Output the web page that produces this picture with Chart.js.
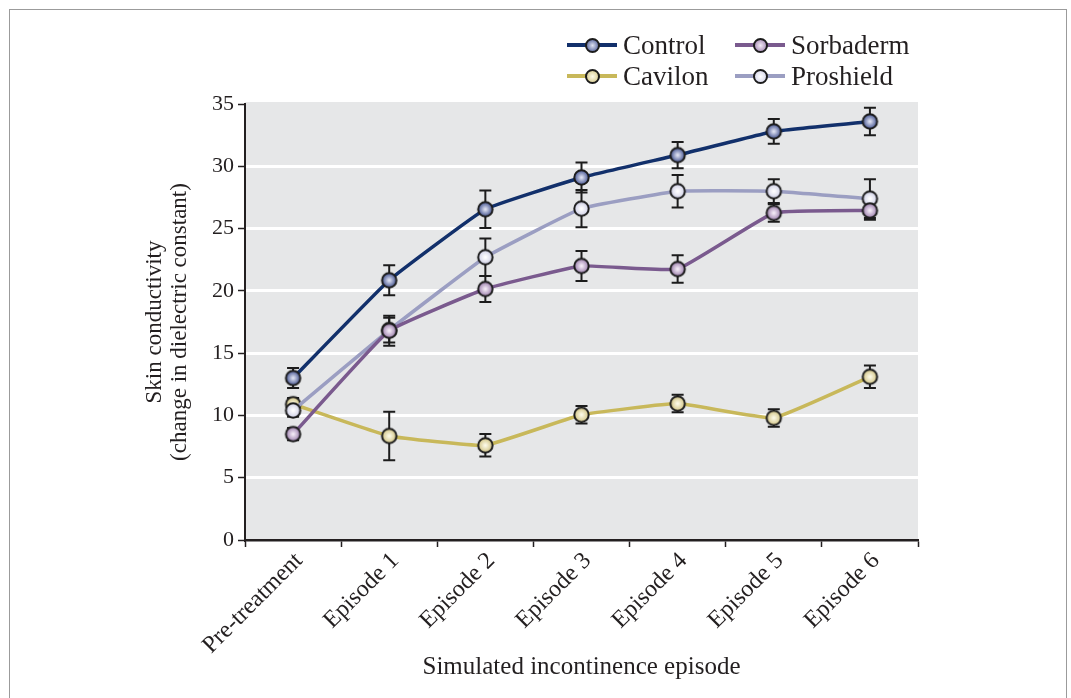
<!DOCTYPE html>
<html>
<head>
<meta charset="utf-8">
<script src="https://cdn.jsdelivr.net/npm/chart.js@4/dist/chart.umd.min.js"></script>
<style>
  body { margin: 0; background: #fff; }
  #wrap { position: relative; width: 1071px; height: 698px; overflow: hidden; }
  #frame { position: absolute; left: 9px; top: 9px; width: 1056px; height: 720px;
           border: 1.5px solid #9b9b9b; border-bottom: none; }
  #chartBox { position: absolute; left: 0; top: 0; width: 1071px; height: 698px; }
  .leg { position: absolute; font-family: "Liberation Serif", serif; font-size: 27px;
         color: #231f20; display: flex; align-items: center; height: 30px; }
  .leg .ln { position: relative; width: 50px; height: 3.5px; margin-right: 6px; }
  .leg .mk { position: absolute; left: 18px; top: -5.5px; width: 11px; height: 11px;
             border: 2px solid #1c1c1c; border-radius: 50%; }
</style>
</head>
<body>
<div id="wrap">
  <div id="frame"></div>
  <div id="chartBox"><canvas id="lineChart"></canvas></div>
  <div id="legend"></div>
</div>
<script>
const categories = ["Pre-treatment", "Episode 1", "Episode 2", "Episode 3", "Episode 4", "Episode 5", "Episode 6"];

const control      = [13.0, 20.85, 26.55, 29.1, 30.9, 32.8, 33.6];
const controlErr   = [0.8, 1.2, 1.5, 1.2, 1.05, 1.0, 1.1];
const sorbaderm    = [8.5, 16.8, 20.15, 22.0, 21.75, 26.25, 26.45];
const sorbadermErr = [0.5, 1.2, 1.05, 1.2, 1.1, 0.7, 0.75];
const cavilon      = [10.9, 8.35, 7.6, 10.05, 10.95, 9.8, 13.1];
const cavilonErr   = [0.5, 1.95, 0.9, 0.7, 0.7, 0.7, 0.9];
const proshield    = [10.4, 16.85, 22.7, 26.6, 28.0, 28.0, 27.4];
const proshieldErr = [0.5, 1.0, 1.5, 1.5, 1.3, 0.95, 1.55];

const yTicks = [0, 5, 10, 15, 20, 25, 30, 35];

const serif = "'Liberation Serif', serif";
const ink = "#231f20";

// shaded marker used as the point style
function marker(inner, outer) {
  const c = document.createElement("canvas");
  c.width = 19; c.height = 19;
  const g = c.getContext("2d");
  const grad = g.createRadialGradient(9.5, 9.5, 0.5, 9.5, 9.5, 7.5);
  grad.addColorStop(0, inner);
  grad.addColorStop(1, outer);
  g.beginPath();
  g.arc(9.5, 9.5, 7.2, 0, Math.PI * 2);
  g.fillStyle = grad;
  g.fill();
  g.lineWidth = 2;
  g.strokeStyle = "#1c1c1c";
  g.stroke();
  return c;
}

const series = [
  { label: "Control",   data: control,   err: controlErr,   color: "#12306b", inner: "#dfe2f2", outer: "#3f4f8d", order: 0 },
  { label: "Sorbaderm", data: sorbaderm, err: sorbadermErr, color: "#7a5a8e", inner: "#f5ecf7", outer: "#987aa9", order: 1 },
  { label: "Cavilon",   data: cavilon,   err: cavilonErr,   color: "#c8b85a", inner: "#fcfae8", outer: "#d0c280", order: 3 },
  { label: "Proshield", data: proshield, err: proshieldErr, color: "#9b9ec2", inner: "#ffffff", outer: "#cdcee5", order: 2 }
];

// LEGEND (2 x 2, matches reference placement)
const legendPos = [[567, 30], [735, 30], [567, 61], [735, 61]];
const legendEl = document.getElementById("legend");
series.forEach((s, i) => {
  const d = document.createElement("div");
  d.className = "leg";
  d.style.left = legendPos[i][0] + "px";
  d.style.top = legendPos[i][1] + "px";
  d.innerHTML = '<span class="ln" style="background:' + s.color + '"><span class="mk" style="background:radial-gradient(circle,' +
    s.inner + ' 0%,' + s.outer + ' 100%)"></span></span>' + s.label;
  legendEl.appendChild(d);
});

const plotBg = {
  id: "plotBg",
  beforeDraw(chart) {
    const { ctx, chartArea: a } = chart;
    ctx.save();
    ctx.fillStyle = "#e6e7e8";
    ctx.fillRect(a.left, a.top - 2, a.right - a.left, a.bottom - a.top + 2);
    ctx.restore();
  }
};

const errorBars = {
  id: "errorBars",
  beforeDatasetsDraw(chart) {
    const { ctx, scales: { x, y } } = chart;
    ctx.save();
    ctx.strokeStyle = "#1c1c1c";
    ctx.lineWidth = 2;
    chart.data.datasets.forEach(ds => {
      ds.data.forEach((v, i) => {
        const px = x.getPixelForValue(i);
        const top = y.getPixelForValue(v + ds.errors[i]);
        const bot = y.getPixelForValue(v - ds.errors[i]);
        ctx.beginPath();
        ctx.moveTo(px, top); ctx.lineTo(px, bot);
        ctx.moveTo(px - 6, top); ctx.lineTo(px + 6, top);
        ctx.moveTo(px - 6, bot); ctx.lineTo(px + 6, bot);
        ctx.stroke();
      });
    });
    ctx.restore();
  }
};

new Chart(document.getElementById("lineChart"), {
  type: "line",
  data: {
    labels: categories,
    datasets: series.map(s => ({
      label: s.label,
      data: s.data,
      errors: s.err,
      order: s.order,
      borderColor: s.color,
      borderWidth: 3.5,
      tension: 0.1,
      pointStyle: marker(s.inner, s.outer),
      pointRadius: 7,
      pointHoverRadius: 7
    }))
  },
  options: {
    responsive: true,
    maintainAspectRatio: false,
    animation: false,
    layout: { padding: { left: 142, right: 153, top: 104, bottom: 14 } },
    plugins: { legend: { display: false }, tooltip: { enabled: false } },
    scales: {
      x: {
        offset: true,
        afterFit(scale) { scale.height = 144; },
        grid: { offset: true, drawOnChartArea: false, tickLength: 7, tickColor: ink, tickWidth: 1.5 },
        border: { display: true, color: ink, width: 2.5 },
        ticks: { autoSkip: false, minRotation: 45, maxRotation: 45, padding: 0, labelOffset: 6,
                 color: ink, font: { family: serif, size: 24 } },
        title: { display: true, text: "Simulated incontinence episode", color: ink,
                 font: { family: serif, size: 25 }, padding: { top: 4, bottom: 2 } }
      },
      y: {
        min: 0,
        max: 35,
        afterFit(scale) { scale.width = 103; },
        afterBuildTicks(scale) { scale.ticks = yTicks.map(v => ({ value: v })); },
        grid: {
          color: c => (c.tick && (c.tick.value === 0 || c.tick.value === 35)) ? "rgba(0,0,0,0)" : "#ffffff",
          lineWidth: 3, tickLength: 7, tickColor: ink, tickWidth: 1.5
        },
        border: { display: true, color: ink, width: 2 },
        ticks: { padding: 4, color: ink, font: { family: serif, size: 22 } },
        title: { display: true, text: ["Skin conductivity", "(change in dielectric constant)"], color: ink,
                 font: { family: serif, size: 23, lineHeight: 1.1 }, padding: { top: 0, bottom: 0 } }
      }
    }
  },
  plugins: [plotBg, errorBars]
});
</script>
</body>
</html>
